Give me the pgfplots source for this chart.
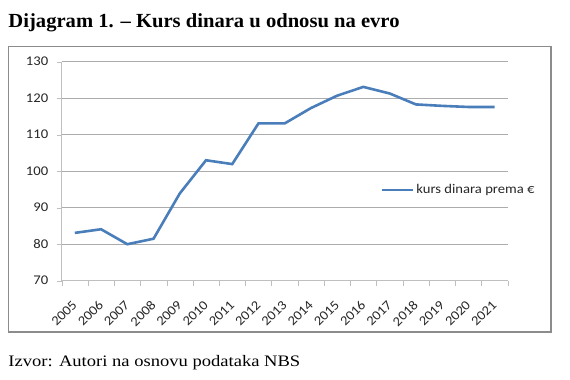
\documentclass[border=0pt]{standalone}
\usepackage{fontspec}
\usepackage{pgfplots}
\pgfplotsset{compat=1.18}
\newfontfamily\chartfont[FakeStretch=1.1]{Carlito}
\newfontfamily\titlefont[FakeStretch=1.03]{Liberation Serif}
\newfontfamily\srcfont[FakeStretch=1.16]{Liberation Serif}
\definecolor{lineblue}{HTML}{4A7EBB}
\definecolor{gridgray}{HTML}{BFBFBF}
\definecolor{boxgray}{HTML}{8C8C8C}
\begin{document}
\begin{tikzpicture}[x=1bp,y=1bp]
\path[use as bounding box] (0,0) rectangle (570,-379);
\node[anchor=base west,inner sep=0] at (8.3,-27.3) {\titlefont\fontsize{20bp}{24bp}\selectfont\bfseries Dijagram 1. – Kurs dinara u odnosu na evro};
\draw[boxgray,line width=1.3bp] (8.3,-46.7) rectangle (551,-332);
\node[anchor=base west,inner sep=0] at (8.3,-366.7) {\srcfont\fontsize{16bp}{19bp}\selectfont Izvor: Autori na osnovu podataka NBS};
\begin{axis}[
  at={(61.7bp,-280.7bp)}, anchor=south west,
  scale only axis, width=446bp, height=219bp,
  xmin=0, xmax=17, ymin=70, ymax=130,
  ytick={70,80,...,130},
  xtick={0,1,...,17},
  x tick label as interval,
  xticklabels={2005,2006,2007,2008,2009,2010,2011,2012,2013,2014,2015,2016,2017,2018,2019,2020,2021},
  major tick length=5bp,
  tick align=outside,
  tick style={draw=gridgray},
  axis x line*=bottom, axis y line*=left,
  axis line style={draw=gridgray, line width=0.8bp},
  ymajorgrids, grid style={draw=gridgray!70!gray, line width=0.6bp},
  /pgf/number format/assume math mode=true,
  ticklabel style={font=\chartfont\fontsize{13.3bp}{15bp}\selectfont, text=black!85},
  yticklabel style={xshift=-5bp},
  xticklabel style={yshift=-17bp, xshift=0bp, rotate=45, anchor=east, inner sep=0pt},
  legend style={at={(0.715,0.414)}, anchor=west, draw=none, fill=none, inner sep=0pt,
    font=\chartfont\fontsize{13.3bp}{15bp}\selectfont, text=black!85,
    cells={anchor=west, inner xsep=1bp}},
  legend image code/.code={\draw[#1] (0bp,0bp) -- (31bp,0bp);},
  clip=false,
]
\addplot[lineblue, line width=2.6bp] coordinates {
(0.5,83.1) (1.5,84.1) (2.5,80.0) (3.5,81.5) (4.5,93.9) (5.5,103.0) (6.5,101.95)
(7.5,113.1) (8.5,113.1) (9.5,117.3) (10.5,120.7) (11.5,123.1) (12.5,121.3)
(13.5,118.3) (14.5,117.9) (15.5,117.6) (16.5,117.6)};
\addlegendentry{kurs dinara prema €}
\end{axis}
\end{tikzpicture}
\end{document}
